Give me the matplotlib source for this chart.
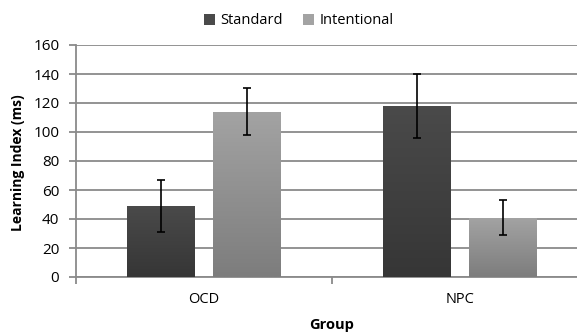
import matplotlib.pyplot as plt
from matplotlib.colors import LinearSegmentedColormap
import numpy as np

groups = ['OCD', 'NPC']
series = ['Standard', 'Intentional']
standard = [49, 118]
standard_err = [18, 22]
intentional = [114, 41]
intentional_err = [16, 12]

plt.rcParams['font.family'] = ['Open Sans', 'DejaVu Sans']

fig = plt.figure(figsize=(5.77, 3.33), dpi=100)
ax = fig.add_axes([76 / 577, 1 - 277 / 333, 1 - 76 / 577, (277 - 45) / 333])

x = np.arange(len(groups))
w = 0.262
off = 0.168
# (top colour, bottom colour) for the gradient fill
shades = {'Standard': ('#4a4a4a', '#363636'), 'Intentional': ('#a3a3a3', '#7d7d7d')}

ekw = dict(ecolor='black', capsize=3, elinewidth=1.2, capthick=1.2, zorder=4)
b1 = ax.bar(x - off, standard, w, color=shades['Standard'][0], label='Standard', zorder=3,
            yerr=standard_err, error_kw=ekw)
b2 = ax.bar(x + off, intentional, w, color=shades['Intentional'][0], label='Intentional', zorder=3,
            yerr=intentional_err, error_kw=ekw)

ax.set_xlim(-0.5, 1.5 - 11 / 256)
ax.set_ylim(0, 160)

# vertical gradient inside each bar
for bars, name in [(b1, 'Standard'), (b2, 'Intentional')]:
    cmap = LinearSegmentedColormap.from_list(name, [shades[name][1], shades[name][0]])
    for bar in bars:
        bx, by = bar.get_x(), bar.get_y()
        bw, bh = bar.get_width(), bar.get_height()
        grad = np.linspace(0, 1, 100).reshape(-1, 1)
        im = ax.imshow(grad, cmap=cmap, aspect='auto', origin='lower',
                       extent=(bx, bx + bw, by, by + bh), zorder=3.5)
        im.set_clip_path(bar)

ax.set_xlim(-0.5, 1.5 - 11 / 256)
ax.set_ylim(0, 160)
ax.set_yticks(range(0, 161, 20))
ax.yaxis.grid(True, color='#8a8a8a', linewidth=1.3, zorder=0)
ax.set_axisbelow(True)

ax.set_xticks([-0.5, 0.5])
ax.set_xticklabels([])
ax.set_xticks(x, minor=True)
ax.set_xticklabels(groups, minor=True)
ax.tick_params(axis='x', which='minor', length=0, pad=11, labelsize=10.5)
ax.tick_params(axis='x', which='major', length=5, color='#8a8a8a', width=1.3)
ax.tick_params(axis='y', length=5, color='#8a8a8a', width=1.3, labelsize=11, pad=7)

for side in ['top', 'right']:
    ax.spines[side].set_visible(False)
for side in ['left', 'bottom']:
    ax.spines[side].set_color('#8a8a8a')
    ax.spines[side].set_linewidth(1.3)

fig.text(18 / 577, 1 - 163 / 333, 'Learning Index (ms)', rotation=90, ha='center', va='center',
         fontsize=10, fontweight='bold')
fig.text(332 / 577, 1 - 325 / 333, 'Group', ha='center', va='center',
         fontsize=10.5, fontweight='bold')

fig.legend(loc='center', bbox_to_anchor=(299 / 577, 1 - 21 / 333), ncol=2, frameon=False,
           fontsize=10.5, handlelength=0.7, handleheight=0.7, handletextpad=0.4, columnspacing=1.4)

fig.savefig('out.png', dpi=100)
